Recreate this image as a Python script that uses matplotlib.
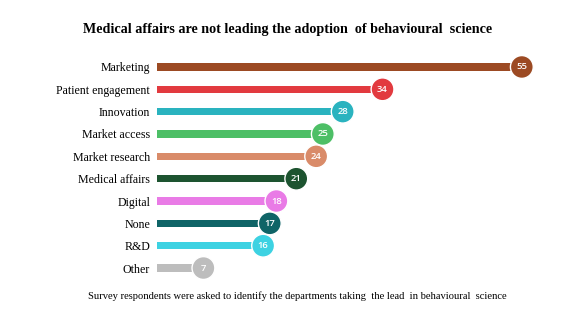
import matplotlib
matplotlib.use("Agg")
import matplotlib.pyplot as plt

departments = ["Marketing", "Patient engagement", "Innovation", "Market access",
               "Market research", "Medical affairs", "Digital", "None", "R&D", "Other"]
shares = [55, 34, 28, 25, 24, 21, 18, 17, 16, 7]
colors = ["#9C4A23", "#E23A3F", "#2AB3BF", "#4DBF66", "#D98B69",
          "#1D5430", "#E97BE6", "#0F6467", "#3DD2E2", "#BDBDBD"]

title = "Medical affairs are not leading the adoption  of behavioural  science"
caption = "Survey respondents were asked to identify the departments taking  the lead  in behavioural  science"

W, H = 577, 325
fig = plt.figure(figsize=(W / 100, H / 100), dpi=100)
fig.patch.set_facecolor("white")

# axes placed in pixel units: x from 157px, rows from 67px to 268px
left, right = 157, 555
top, bottom = 55.8, 279.2
ax = fig.add_axes([left / W, 1 - bottom / H, (right - left) / W, (bottom - top) / H])
ax.set_xlim(0, 60)
ax.set_ylim(len(departments) - 0.5, -0.5)

ypos = list(range(len(departments)))
ax.barh(ypos, shares, height=0.32, color=colors, zorder=1)
ax.scatter(shares, ypos, s=270, c=colors, edgecolors="white", linewidths=1.0, zorder=2)
for y, v in zip(ypos, shares):
    ax.text(v, y, str(v), ha="center", va="center", color="white",
            fontsize=6.8, family="Open Sans", fontweight="semibold", zorder=3)

ax.set_yticks(ypos)
ax.set_yticklabels(departments, family="Liberation Serif", fontsize=8.6)
ax.tick_params(axis="y", length=0, pad=5)
ax.set_xticks([])
for s in ax.spines.values():
    s.set_visible(False)

fig.text(288 / W, 1 - 30 / H, title, ha="center", va="center",
         family="Liberation Serif", fontweight="bold", fontsize=10.2)
fig.text(297 / W, 1 - 296 / H, caption, ha="center", va="center",
         family="Liberation Serif", fontsize=7.6)

fig.savefig("out.png", dpi=100)
